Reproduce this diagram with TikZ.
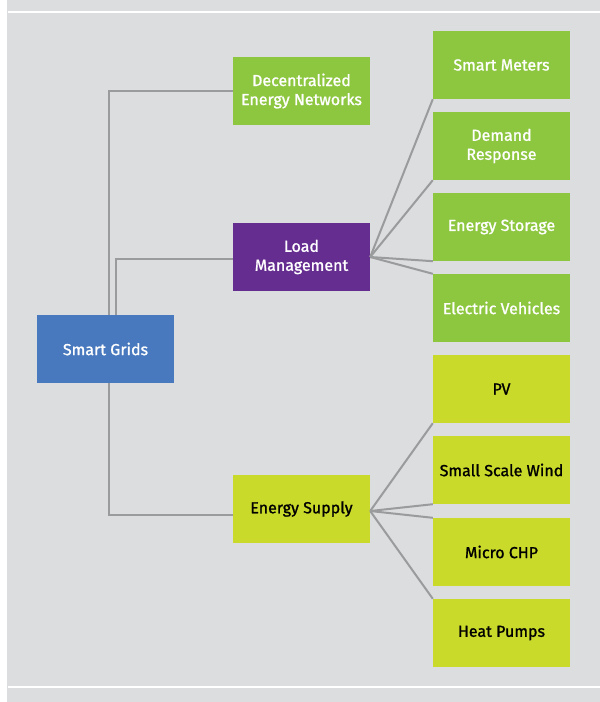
\documentclass[tikz,border=0pt]{standalone}
\usepackage{fontspec}
\setmainfont{Fira Sans}
\newfontfamily\boxfont{Fira Sans}[FakeBold=1.2]
\definecolor{bgc}{HTML}{DCDDDF}
\definecolor{linec}{HTML}{9A9B9D}
\definecolor{cblue}{HTML}{4878BD}
\definecolor{cgreen}{HTML}{8DC63F}
\definecolor{cpurple}{HTML}{662D91}
\definecolor{clime}{HTML}{C9DA2A}
\tikzset{
  box/.style={minimum width=137pt, minimum height=68pt, inner sep=0pt, align=center,
    font=\boxfont\fontsize{16}{19}\selectfont},
  bluebox/.style={box, fill=cblue, text=white},
  greenbox/.style={box, fill=cgreen, text=white},
  purplebox/.style={box, fill=cpurple, text=white},
  limebox/.style={box, fill=clime, text=black},
  conn/.style={draw=linec, line width=2pt},
}
\begin{document}
\begin{tikzpicture}[x=1pt,y=-1pt]
\useasboundingbox (0,0) rectangle (600,702);
\fill[white] (0,0) rectangle (600,702);
\fill[bgc] (7,0) rectangle (600,702);
\fill[white] (8,11) rectangle (600,13);
\fill[white] (8,686) rectangle (600,688);

\coordinate (sgc) at (105.5,349);
\node[greenbox] (dec) at (301.5,91) {Decentralized\\Energy Networks};
\node[purplebox] (load) at (301.5,257) {Load\\Management};
\node[limebox] (sup) at (301.5,509) {Energy Supply};

\node[greenbox] (sm) at (501.5,65) {Smart Meters};
\node[greenbox] (dr) at (501.5,146) {Demand\\Response};
\node[greenbox] (es) at (501.5,227) {Energy Storage};
\node[greenbox] (ev) at (501.5,308) {Electric Vehicles};
\node[limebox] (pv) at (501.5,389) {PV};
\node[limebox] (ssw) at (501.5,470) {Small Scale Wind};
\node[limebox] (chp) at (501.5,552) {Micro CHP};
\node[limebox] (hp) at (501.5,633) {Heat Pumps};

\coordinate (o1) at ([xshift=3.5pt]sgc);
\coordinate (o2) at ([xshift=10.5pt]sgc);
\coordinate (lo) at (load.east);
\coordinate (so) at ([yshift=-2pt]sup.east);

\draw[conn] (o1) |- (dec.west);
\draw[conn] (o2) |- ([yshift=-2pt]load.west);
\draw[conn] (o1) |- ([yshift=-6pt]sup.west);

\draw[conn] (lo) -- (sm.south west);
\draw[conn] (lo) -- (dr.south west);
\draw[conn] (lo) -- (es.south west);
\draw[conn] (lo) -- (ev.north west);

\draw[conn] (so) -- (pv.south west);
\draw[conn] (so) -- (ssw.south west);
\draw[conn] (so) -- (chp.north west);
\draw[conn] (so) -- (hp.north west);

\node[bluebox] (sg) at (sgc) {Smart Grids};
\end{tikzpicture}
\end{document}
